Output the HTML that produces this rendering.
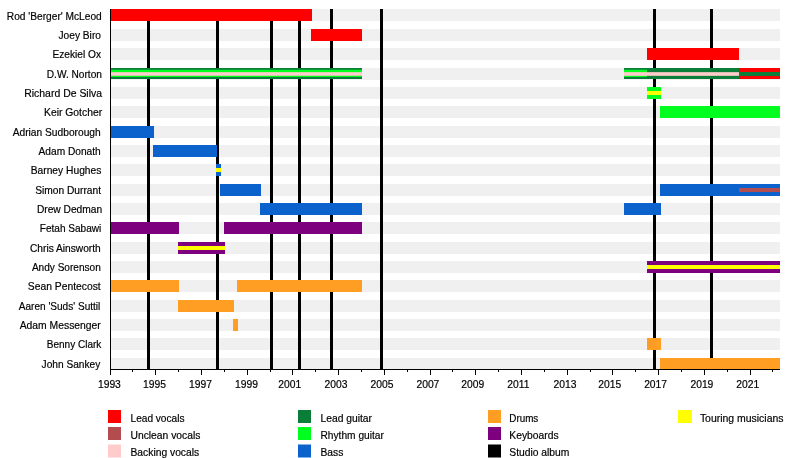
<!DOCTYPE html>
<html><head><meta charset="utf-8"><title>Timeline</title>
<style>
html,body{margin:0;padding:0;background:#fff;}
svg{display:block;will-change:transform;}
text{font-family:"Liberation Sans",sans-serif;font-size:10.3px;fill:#000;stroke:#000;stroke-width:0.18px;}
</style></head><body>
<svg width="800" height="458" viewBox="0 0 800 458">
<rect width="800" height="458" fill="#fff"/>
<g shape-rendering="crispEdges">
<rect x="110" y="9" width="670" height="12" fill="#f0f0f0"/>
<rect x="110" y="29" width="670" height="12" fill="#f0f0f0"/>
<rect x="110" y="48" width="670" height="12" fill="#f0f0f0"/>
<rect x="110" y="68" width="670" height="12" fill="#f0f0f0"/>
<rect x="110" y="87" width="670" height="12" fill="#f0f0f0"/>
<rect x="110" y="106" width="670" height="12" fill="#f0f0f0"/>
<rect x="110" y="126" width="670" height="12" fill="#f0f0f0"/>
<rect x="110" y="145" width="670" height="12" fill="#f0f0f0"/>
<rect x="110" y="164" width="670" height="12" fill="#f0f0f0"/>
<rect x="110" y="184" width="670" height="12" fill="#f0f0f0"/>
<rect x="110" y="203" width="670" height="12" fill="#f0f0f0"/>
<rect x="110" y="222" width="670" height="12" fill="#f0f0f0"/>
<rect x="110" y="242" width="670" height="12" fill="#f0f0f0"/>
<rect x="110" y="261" width="670" height="12" fill="#f0f0f0"/>
<rect x="110" y="280" width="670" height="12" fill="#f0f0f0"/>
<rect x="110" y="300" width="670" height="12" fill="#f0f0f0"/>
<rect x="110" y="319" width="670" height="12" fill="#f0f0f0"/>
<rect x="110" y="338" width="670" height="12" fill="#f0f0f0"/>
<rect x="110" y="358" width="670" height="12" fill="#f0f0f0"/>
<rect x="147" y="9" width="3" height="360" fill="#000"/>
<rect x="216" y="9" width="3" height="360" fill="#000"/>
<rect x="270" y="9" width="3" height="360" fill="#000"/>
<rect x="298" y="9" width="3" height="360" fill="#000"/>
<rect x="330" y="9" width="3" height="360" fill="#000"/>
<rect x="380" y="9" width="3" height="360" fill="#000"/>
<rect x="653" y="9" width="3" height="360" fill="#000"/>
<rect x="710" y="9" width="3" height="360" fill="#000"/>
<rect x="110" y="9" width="202" height="12" fill="#ff0000"/>
<rect x="311" y="29" width="51" height="12" fill="#ff0000"/>
<rect x="647" y="48" width="92" height="12" fill="#ff0000"/>
<rect x="110" y="68" width="252" height="11" fill="#0a7d38"/>
<rect x="110" y="69.75" width="252" height="7.2" fill="#00ff1e" shape-rendering="auto"/>
<rect x="110" y="72.15" width="252" height="3.6" fill="#ffcbcb" shape-rendering="auto"/>
<rect x="624" y="68" width="115" height="11" fill="#0a7d38"/>
<rect x="624" y="69.75" width="23" height="7.2" fill="#00ff1e" shape-rendering="auto"/>
<rect x="624" y="72.15" width="115" height="3.7" fill="#ffcbcb" shape-rendering="auto"/>
<rect x="739" y="68" width="41" height="11" fill="#ff0000"/>
<rect x="739" y="72" width="41" height="4" fill="#0a7d38"/>
<rect x="647" y="87" width="14" height="12" fill="#00ff1e"/>
<rect x="647" y="91" width="14" height="4" fill="#ffff00"/>
<rect x="660" y="106" width="120" height="12" fill="#00ff1e"/>
<rect x="110" y="126" width="44" height="12" fill="#0b62cc"/>
<rect x="153" y="145" width="64" height="12" fill="#0b62cc"/>
<rect x="216" y="164" width="5" height="12" fill="#0b62cc"/>
<rect x="216" y="168" width="5" height="4" fill="#ffff00"/>
<rect x="220" y="184" width="41" height="12" fill="#0b62cc"/>
<rect x="660" y="184" width="120" height="12" fill="#0b62cc"/>
<rect x="739" y="188" width="41" height="4" fill="#b24c4f"/>
<rect x="260" y="203" width="102" height="12" fill="#0b62cc"/>
<rect x="624" y="203" width="37" height="12" fill="#0b62cc"/>
<rect x="110" y="222" width="69" height="12" fill="#7d007f"/>
<rect x="224" y="222" width="138" height="12" fill="#7d007f"/>
<rect x="178" y="242" width="47" height="12" fill="#7d007f"/>
<rect x="178" y="246" width="47" height="4" fill="#ffff00"/>
<rect x="647" y="261" width="133" height="12" fill="#7d007f"/>
<rect x="647" y="265" width="133" height="4" fill="#ffff00"/>
<rect x="110" y="280" width="69" height="12" fill="#ff9e22"/>
<rect x="237" y="280" width="125" height="12" fill="#ff9e22"/>
<rect x="178" y="300" width="56" height="12" fill="#ff9e22"/>
<rect x="233" y="319" width="5" height="12" fill="#ff9e22"/>
<rect x="647" y="338" width="14" height="12" fill="#ff9e22"/>
<rect x="660" y="358" width="120" height="12" fill="#ff9e22"/>
<rect x="110" y="9" width="1" height="361" fill="#000"/>
<rect x="110" y="369" width="670" height="1" fill="#000"/>
<rect x="110" y="370" width="1" height="5" fill="#000"/>
<rect x="132" y="370" width="1" height="2" fill="#000"/>
<rect x="155" y="370" width="1" height="5" fill="#000"/>
<rect x="178" y="370" width="1" height="2" fill="#000"/>
<rect x="201" y="370" width="1" height="5" fill="#000"/>
<rect x="224" y="370" width="1" height="2" fill="#000"/>
<rect x="247" y="370" width="1" height="5" fill="#000"/>
<rect x="270" y="370" width="1" height="2" fill="#000"/>
<rect x="292" y="370" width="1" height="5" fill="#000"/>
<rect x="315" y="370" width="1" height="2" fill="#000"/>
<rect x="338" y="370" width="1" height="5" fill="#000"/>
<rect x="361" y="370" width="1" height="2" fill="#000"/>
<rect x="384" y="370" width="1" height="5" fill="#000"/>
<rect x="407" y="370" width="1" height="2" fill="#000"/>
<rect x="430" y="370" width="1" height="5" fill="#000"/>
<rect x="452" y="370" width="1" height="2" fill="#000"/>
<rect x="475" y="370" width="1" height="5" fill="#000"/>
<rect x="498" y="370" width="1" height="2" fill="#000"/>
<rect x="521" y="370" width="1" height="5" fill="#000"/>
<rect x="544" y="370" width="1" height="2" fill="#000"/>
<rect x="567" y="370" width="1" height="5" fill="#000"/>
<rect x="590" y="370" width="1" height="2" fill="#000"/>
<rect x="612" y="370" width="1" height="5" fill="#000"/>
<rect x="635" y="370" width="1" height="2" fill="#000"/>
<rect x="658" y="370" width="1" height="5" fill="#000"/>
<rect x="681" y="370" width="1" height="2" fill="#000"/>
<rect x="704" y="370" width="1" height="5" fill="#000"/>
<rect x="727" y="370" width="1" height="2" fill="#000"/>
<rect x="750" y="370" width="1" height="5" fill="#000"/>
<rect x="772" y="370" width="1" height="2" fill="#000"/>
</g>
<text x="109.40" y="388" text-anchor="middle">1993</text>
<text x="154.50" y="388" text-anchor="middle">1995</text>
<text x="200.45" y="388" text-anchor="middle">1997</text>
<text x="246.50" y="388" text-anchor="middle">1999</text>
<text x="289.70" y="388" text-anchor="middle">2001</text>
<text x="336.00" y="388" text-anchor="middle">2003</text>
<text x="382.00" y="388" text-anchor="middle">2005</text>
<text x="427.90" y="388" text-anchor="middle">2007</text>
<text x="472.80" y="388" text-anchor="middle">2009</text>
<text x="518.40" y="388" text-anchor="middle">2011</text>
<text x="565.00" y="388" text-anchor="middle">2013</text>
<text x="609.70" y="388" text-anchor="middle">2015</text>
<text x="655.60" y="388" text-anchor="middle">2017</text>
<text x="701.90" y="388" text-anchor="middle">2019</text>
<text x="747.80" y="388" text-anchor="middle">2021</text>
<text x="101.75" y="20" text-anchor="end" textLength="94.91" lengthAdjust="spacingAndGlyphs">Rod 'Berger' McLeod</text>
<text x="100.95" y="39" text-anchor="end" textLength="42.44" lengthAdjust="spacingAndGlyphs">Joey Biro</text>
<text x="101.05" y="58" text-anchor="end" textLength="48.53" lengthAdjust="spacingAndGlyphs">Ezekiel Ox</text>
<text x="101.95" y="78" text-anchor="end" textLength="55.20" lengthAdjust="spacingAndGlyphs">D.W. Norton</text>
<text x="102.05" y="97" text-anchor="end" textLength="77.82" lengthAdjust="spacingAndGlyphs">Richard De Silva</text>
<text x="102.15" y="116" text-anchor="end" textLength="58.12" lengthAdjust="spacingAndGlyphs">Keir Gotcher</text>
<text x="100.75" y="136" text-anchor="end" textLength="88.07" lengthAdjust="spacingAndGlyphs">Adrian Sudborough</text>
<text x="100.75" y="155" text-anchor="end" textLength="62.19" lengthAdjust="spacingAndGlyphs">Adam Donath</text>
<text x="101.35" y="174" text-anchor="end" textLength="70.61" lengthAdjust="spacingAndGlyphs">Barney Hughes</text>
<text x="101.05" y="194" text-anchor="end" textLength="65.90" lengthAdjust="spacingAndGlyphs">Simon Durrant</text>
<text x="102.15" y="213" text-anchor="end" textLength="65.24" lengthAdjust="spacingAndGlyphs">Drew Dedman</text>
<text x="101.35" y="232" text-anchor="end" textLength="61.59" lengthAdjust="spacingAndGlyphs">Fetah Sabawi</text>
<text x="100.75" y="252" text-anchor="end" textLength="70.75" lengthAdjust="spacingAndGlyphs">Chris Ainsworth</text>
<text x="100.75" y="271" text-anchor="end" textLength="68.84" lengthAdjust="spacingAndGlyphs">Andy Sorenson</text>
<text x="100.75" y="290" text-anchor="end" textLength="72.93" lengthAdjust="spacingAndGlyphs">Sean Pentecost</text>
<text x="100.35" y="310" text-anchor="end" textLength="81.63" lengthAdjust="spacingAndGlyphs">Aaren 'Suds' Suttil</text>
<text x="100.75" y="329" text-anchor="end" textLength="81.03" lengthAdjust="spacingAndGlyphs">Adam Messenger</text>
<text x="101.35" y="348" text-anchor="end" textLength="54.60" lengthAdjust="spacingAndGlyphs">Benny Clark</text>
<text x="100.35" y="368" text-anchor="end" textLength="58.76" lengthAdjust="spacingAndGlyphs">John Sankey</text>
<rect x="108" y="410" width="13" height="13" fill="#ff0000"/>
<text x="130.5" y="422" textLength="54.0" lengthAdjust="spacingAndGlyphs">Lead vocals</text>
<rect x="108" y="427" width="13" height="13" fill="#b24c4f"/>
<text x="130.5" y="439">Unclean vocals</text>
<rect x="108" y="444.5" width="13" height="13" fill="#ffcbcb"/>
<text x="130.5" y="456">Backing vocals</text>
<rect x="298" y="410" width="13" height="13" fill="#0a7d38"/>
<text x="320.5" y="422">Lead guitar</text>
<rect x="298" y="427" width="13" height="13" fill="#00ff1e"/>
<text x="320.5" y="439" textLength="63.4" lengthAdjust="spacingAndGlyphs">Rhythm guitar</text>
<rect x="298" y="444.5" width="13" height="13" fill="#0b62cc"/>
<text x="320.5" y="456">Bass</text>
<rect x="488" y="410" width="13" height="13" fill="#ff9e22"/>
<text x="509.3" y="422" textLength="29.0" lengthAdjust="spacingAndGlyphs">Drums</text>
<rect x="488" y="427" width="13" height="13" fill="#7d007f"/>
<text x="509.3" y="439">Keyboards</text>
<rect x="488" y="444.5" width="13" height="13" fill="#000"/>
<text x="509.3" y="456">Studio album</text>
<rect x="678" y="410" width="13.9" height="13" fill="#ffff00"/>
<text x="699.9" y="422" textLength="83.6" lengthAdjust="spacingAndGlyphs">Touring musicians</text>
</svg>
</body></html>
